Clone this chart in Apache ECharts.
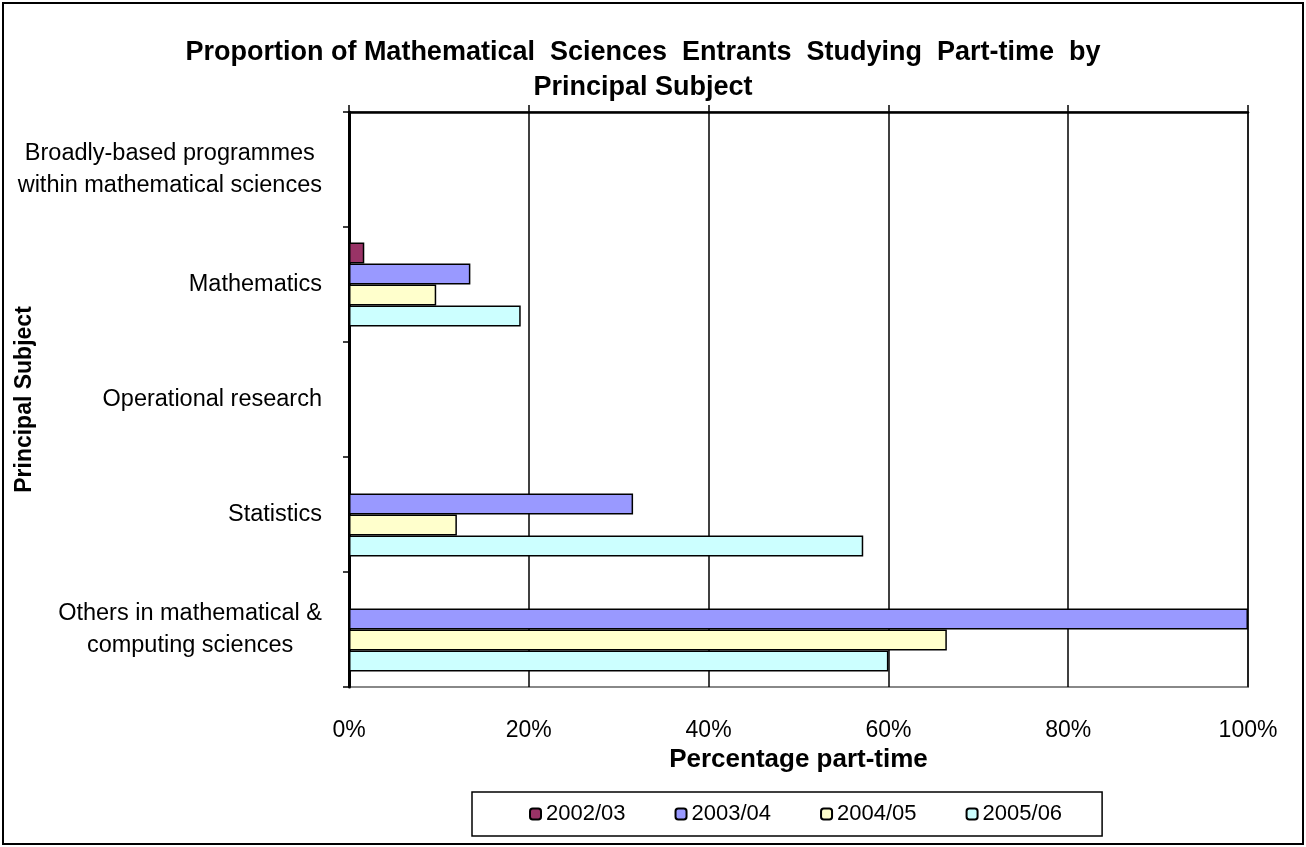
<!DOCTYPE html>
<html>
<head>
<meta charset="utf-8">
<script src="https://cdn.jsdelivr.net/npm/echarts@6/dist/echarts.min.js"></script>
<style>
html,body{margin:0;padding:0;background:#fff;}
#chart{width:1306px;height:847px;}
</style>
</head>
<body>
<div id="chart"></div>
<script>
const categories = [
  'Broadly-based programmes\nwithin mathematical sciences',
  'Mathematics',
  'Operational research',
  'Statistics',
  'Others in mathematical &\ncomputing sciences'
];
const seriesNames = ['2002/03', '2003/04', '2004/05', '2005/06'];
const v2002 = [null, 1.7, null, null, null];
const v2003 = [null, 13.5, null, 31.6, 100];
const v2004 = [null, 9.7, null, 12.0, 66.5];
const v2005 = [null, 19.1, null, 57.2, 60.0];
const colors = ['#993366', '#9999FF', '#FFFFCC', '#CCFFFF'];
const xTicks = { min: 0, max: 100, interval: 20 };

const FONT = 'Liberation Sans, Arial, sans-serif';
const values = [v2002, v2003, v2004, v2005];

const chart = echarts.init(document.getElementById('chart'), null, { renderer: 'canvas' });
const option = {
  backgroundColor: '#fff',
  animation: false,
  title: {
    text: 'Proportion of Mathematical  Sciences  Entrants  Studying  Part-time  by\nPrincipal Subject',
    left: 638,
    textAlign: 'center',
    top: 30,
    textStyle: { fontFamily: FONT, fontSize: 27, fontWeight: 'bold', color: '#000', lineHeight: 35 }
  },
  legend: {
    data: seriesNames,
    left: 472,
    top: 792,
    orient: 'horizontal',
    itemWidth: 11,
    itemHeight: 11,
    itemGap: 49,
    padding: [11, 40, 11, 57],
    borderColor: '#000',
    borderWidth: 1.5,
    textStyle: { fontFamily: FONT, fontSize: 22, color: '#000' }
  },
  grid: {
    left: 349, right: 58, top: 112, bottom: 160,
    outerBoundsMode: 'none',
    containLabel: false,
    show: true, borderColor: '#888', borderWidth: 2, backgroundColor: '#fff'
  },
  xAxis: [
    {
      type: 'value', position: 'bottom',
      min: xTicks.min, max: xTicks.max, interval: xTicks.interval,
      name: 'Percentage part-time', nameLocation: 'middle', nameGap: 60,
      nameMoveOverlap: false,
      nameTextStyle: { fontFamily: FONT, fontSize: 26, fontWeight: 'bold', color: '#000' },
      axisLine: { show: false },
      axisTick: { show: false },
      axisLabel: { formatter: '{value}%', fontFamily: FONT, fontSize: 23, color: '#000', margin: 32 },
      splitLine: { show: true, lineStyle: { color: '#000', width: 1.5 } }
    },
    {
      type: 'value', position: 'top',
      min: xTicks.min, max: xTicks.max, interval: xTicks.interval,
      axisLine: { show: true, lineStyle: { color: '#000', width: 2.5 } },
      axisTick: { show: true, length: 7, inside: false, lineStyle: { color: '#000', width: 1.5 } },
      axisLabel: { show: false },
      splitLine: { show: false }
    }
  ],
  yAxis: {
    type: 'category',
    data: categories,
    inverse: true,
    name: 'Principal Subject', nameLocation: 'middle', nameGap: 313, nameRotate: 90,
    nameMoveOverlap: false,
    nameTextStyle: { fontFamily: FONT, fontSize: 23, fontWeight: 'bold', color: '#000' },
    axisLine: { show: true, lineStyle: { color: '#000', width: 3 } },
    axisTick: { show: true, length: 6, lineStyle: { color: '#000', width: 1.5 } },
    axisLabel: {
      fontFamily: FONT, fontSize: 23.5, color: '#000', margin: 27, lineHeight: 32,
      formatter: function (v) {
        if (v.indexOf('\n') >= 0) {
          return v.split('\n').map(function (l) { return '{c|' + l + '}'; }).join('\n');
        }
        return v;
      },
      rich: { c: { align: 'center', fontFamily: FONT, fontSize: 23.5, color: '#000', lineHeight: 32 } }
    },
    splitLine: { show: false }
  },
  series: seriesNames.map(function (name, i) {
    return {
      name: name,
      type: 'bar',
      xAxisIndex: 0,
      data: values[i],
      barWidth: 21,
      barGap: '0%',
      itemStyle: { color: colors[i], borderColor: '#000', borderWidth: 1.5 }
    };
  }),
  graphic: [{
    type: 'rect', silent: true, z: 100,
    shape: { x: 3, y: 3, width: 1300, height: 841 },
    style: { fill: 'none', stroke: '#000', lineWidth: 2 }
  }]
};
chart.setOption(option);
</script>
</body>
</html>
